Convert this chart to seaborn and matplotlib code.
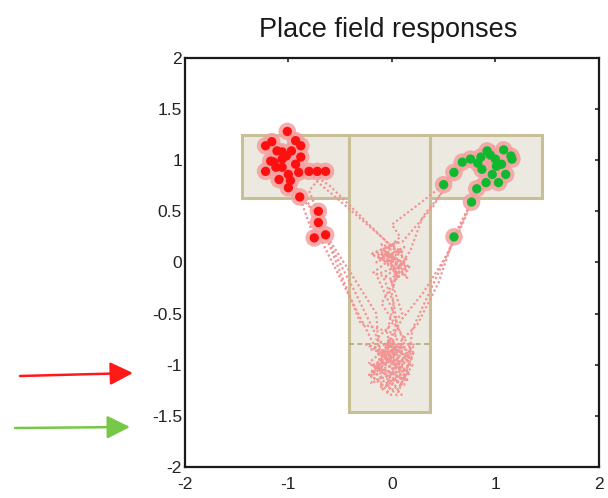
import matplotlib
matplotlib.use("Agg")
import matplotlib.pyplot as plt
from matplotlib.patches import Rectangle
import pandas as pd
import seaborn as sns

# Trajectories (x, y) per trial
trial_x = [
    [-0.05, 0.05, -0.18, 0.08, -0.12, 0.15, -0.05, 0.02, -0.08, 0.12, -0.15, 0.05, -0.10, 0.10, -0.05,
     -0.30, -0.60, -0.90, -1.05, -1.15, -1.00, -0.95],
    [0.10, -0.12, 0.15, -0.20, 0.00, 0.18, -0.10, -0.15, -0.40, -0.72, -0.75, -0.90, -1.10, -1.20, -1.05, -1.15],
    [-0.15, 0.05, -0.10, 0.12, -0.05, 0.20, -0.15, 0.10, 0.00, 0.15, -0.10, 0.10, -0.18, 0.05, -0.05, 0.15,
     -0.10, -0.50, -0.85, -1.00, -0.90, -1.10],
    [0.00, -0.20, 0.05, -0.25, 0.10, -0.15, -0.70, -0.75, -0.70, -0.85, -1.00, -1.20, -1.10, -0.95, -1.00, -0.98],
    [0.05, 0.20, -0.10, 0.10, -0.22, 0.05, -0.30, -0.64, -0.70, -0.72, -0.80, -0.65, -0.80, -0.95, -1.20, -1.05],
    [-0.10, 0.08, -0.20, 0.02, -0.12, -0.35, -0.71, -0.75, -0.89, -1.09, -1.17, -1.22, -1.06, -0.93],
    [0.00, 0.15, -0.10, 0.10, -0.20, 0.05, 0.00, 0.05, -0.05, 0.12, -0.15, 0.05, -0.20, 0.15, -0.02, 0.18,
     0.30, 0.50, 0.70, 0.90, 1.05, 1.15, 1.00],
    [-0.10, 0.12, -0.05, 0.20, 0.05, -0.18, 0.25, 0.45, 0.60, 0.65, 0.77, 0.82, 0.90, 1.03, 1.10, 1.00],
    [0.10, -0.15, 0.10, -0.05, 0.22, -0.10, 0.10, -0.10, 0.10, -0.05, 0.15, -0.12, 0.08, 0.00,
     0.30, 0.50, 0.60, 0.68, 0.76, 0.86, 0.92],
    [-0.05, 0.18, -0.15, 0.05, -0.22, 0.12, 0.20, 0.60, 0.62, 0.80, 0.91, 0.97, 1.06, 1.16, 1.15, 0.95],
    [0.15, -0.20, 0.05, 0.22, -0.08, 0.10, 0.30, 0.55, 0.75, 0.87, 0.95, 1.10, 1.00, 0.88],
    [0.02, -0.12, 0.18, -0.06, 0.12, 0.00, -0.15, 0.10, -0.08, 0.18, -0.20, 0.02, 0.10, 0.40, 0.60, 0.50],
]
trial_y = [
    [-1.28, -1.10, -1.00, -0.85, -0.95, -1.15, -0.70, -0.40, -0.15, 0.00, 0.10, -0.12, 0.18, 0.10, 0.20,
     0.45, 0.75, 0.95, 1.05, 0.98, 1.12, 0.98],
    [-1.20, -1.05, -0.95, -0.85, -0.78, -1.00, -1.25, -0.50, -0.10, 0.40, 0.50, 0.65, 0.85, 1.00, 1.10, 1.15],
    [-1.15, -1.00, -0.90, -1.05, -0.80, -0.95, -0.75, -0.50, -0.20, -0.05, 0.05, 0.12, -0.10, -0.18, 0.15, 0.02,
     0.25, 0.60, 0.90, 1.00, 1.05, 0.92],
    [-1.30, -1.10, -0.90, -0.80, -1.00, -0.85, 0.25, 0.30, 0.40, 0.65, 0.80, 0.90, 1.05, 1.15, 1.28, 1.10],
    [-1.25, -1.00, -0.92, -0.80, -1.10, -0.70, -0.60, 0.26, 0.37, 0.50, 0.70, 0.88, 0.90, 1.00, 1.12, 0.95],
    [-0.90, -1.05, -1.18, -0.82, -0.78, -0.30, 0.39, 0.24, 0.64, 0.81, 0.99, 0.89, 0.93, 0.96],
    [-1.25, -1.05, -0.95, -0.82, -1.12, -0.60, -0.30, -0.10, 0.05, 0.15, 0.00, 0.20, 0.08, -0.08, -0.20, 0.12,
     0.45, 0.70, 0.95, 1.05, 0.98, 1.02, 0.90],
    [-1.20, -1.10, -0.85, -0.90, -1.30, -1.05, -0.60, -0.20, 0.25, 0.30, 0.59, 0.72, 0.80, 0.78, 0.86, 0.95],
    [-1.30, -1.00, -0.95, -0.75, -0.90, -0.40, -0.05, 0.10, 0.00, 0.10, -0.15, 0.05, 0.25, 0.37,
     0.60, 0.76, 0.88, 0.98, 1.01, 1.03, 1.09],
    [-1.15, -0.85, -0.90, -0.75, -0.98, -1.20, -0.65, 0.23, 0.30, 0.65, 0.78, 0.86, 0.96, 1.01, 1.06, 1.15],
    [-1.15, -1.00, -1.10, -0.80, -0.88, -0.55, -0.30, 0.10, 0.55, 0.91, 1.00, 1.05, 1.10, 1.00],
    [-0.88, -0.98, -1.08, -1.22, -0.80, -0.45, -0.12, -0.02, 0.12, -0.05, 0.08, 0.18, 0.20, 0.55, 0.88, 0.76],
]

# Spikes of the two place cells
red_x = [-1.01, -1.06, -0.64, -0.72, -0.80, -0.90, -1.09, -1.00, -0.89, -0.71, -0.71, -0.75, -0.64,
         -1.22, -1.17, -1.22, -1.14, -1.06, -0.97, -0.88, -0.93, -1.02, -1.11, -1.06, -0.88, -0.93,
         -1.16, -1.00, -1.12, -0.98]
red_y = [1.28, 1.01, 0.89, 0.89, 0.89, 0.88, 0.81, 0.73, 0.64, 0.50, 0.39, 0.24, 0.27,
         1.14, 0.99, 0.89, 0.98, 1.08, 1.09, 1.03, 0.96, 1.04, 1.09, 0.93, 1.14, 1.19,
         1.18, 0.86, 0.93, 0.80]
green_x = [0.50, 0.60, 0.68, 0.76, 0.86, 0.92, 1.00, 1.06, 1.16, 1.15, 0.87, 0.97, 0.91, 0.82,
           1.03, 1.10, 0.77, 0.60, 1.01, 0.95, 1.08, 0.83]
green_y = [0.76, 0.88, 0.98, 1.01, 1.03, 1.09, 1.01, 0.96, 1.01, 1.04, 0.91, 0.86, 0.78, 0.72,
           0.78, 0.86, 0.59, 0.25, 0.94, 1.05, 1.10, 0.97]

ticks = [-2, -1.5, -1, -0.5, 0, 0.5, 1, 1.5, 2]
xticks = [-2, -1, 0, 1, 2]

rows = []
for i, (xs, ys) in enumerate(zip(trial_x, trial_y)):
    for k, (x, y) in enumerate(zip(xs, ys)):
        rows.append({"trial": i, "step": k, "x": x, "y": y})
paths = pd.DataFrame(rows)
red = pd.DataFrame({"x": red_x, "y": red_y})
green = pd.DataFrame({"x": green_x, "y": green_y})

sns.set_style("white")
plt.rcParams["font.family"] = ["Liberation Sans", "DejaVu Sans"]

fig = plt.figure(figsize=(6.08, 4.98), dpi=100)
ax = fig.add_axes([0.304, 0.062, 0.681, 0.822])

# the T maze
box_fc, box_ec = "#ECEAE0", "#C8BF96"
for (x0, y0, w, h) in [(-1.45, 0.63, 1.04, 0.62), (0.37, 0.63, 1.08, 0.62), (-0.41, -1.46, 0.78, 2.71)]:
    ax.add_patch(Rectangle((x0, y0), w, h, facecolor=box_fc, edgecolor=box_ec, lw=2.2, zorder=0))
ax.plot([-0.41, 0.37], [-0.80, -0.80], color="#B0A878", lw=1.2, ls=(0, (3, 2)), zorder=1)

sns.lineplot(data=paths, x="x", y="y", units="trial", estimator=None, sort=False,
             color="#F29494", lw=1.6, linestyle=(0, (1, 1.1)), ax=ax, legend=False, zorder=2)

for df, c in [(red, "#FF1010"), (green, "#10B830")]:
    sns.scatterplot(data=df, x="x", y="y", s=160, color="#F4A0A0", edgecolor="none",
                    alpha=0.85, ax=ax, zorder=3)
    sns.scatterplot(data=df, x="x", y="y", s=45, color=c, edgecolor="none", ax=ax, zorder=4)

ax.set_xlim(-2, 2)
ax.set_ylim(-2, 2)
ax.set_xticks(xticks)
ax.set_yticks(ticks)
ax.set_xticklabels([f"{t:g}" for t in xticks])
ax.set_yticklabels([f"{t:g}" for t in ticks])
ax.set_xlabel("")
ax.set_ylabel("")
ax.tick_params(direction="in", length=3, width=1.2, top=True, right=True,
               labelsize=12.5, colors="#222222")
ax.tick_params(axis="x", pad=7)
ax.tick_params(axis="y", pad=2)
for sp in ax.spines.values():
    sp.set_linewidth(1.6)
    sp.set_color("#1A1A1A")
ax.set_title("Place field responses", fontsize=19.5, pad=15, color="#1A1A1A", x=0.49)

# arrows on the left, outside the axes
for (x0, y0, x1, y1, c) in [(20, 376, 133, 373, "#FF1A1A"), (15, 428, 130, 427, "#77C846")]:
    ax.annotate("", xy=(x1 / 608, 1 - y1 / 498), xytext=(x0 / 608, 1 - y0 / 498),
                xycoords="figure fraction", textcoords="figure fraction",
                arrowprops=dict(arrowstyle="-|>,head_length=1.4,head_width=0.7",
                                color=c, lw=1.8, shrinkA=0, shrinkB=0))

fig.savefig("out.png", dpi=100)
